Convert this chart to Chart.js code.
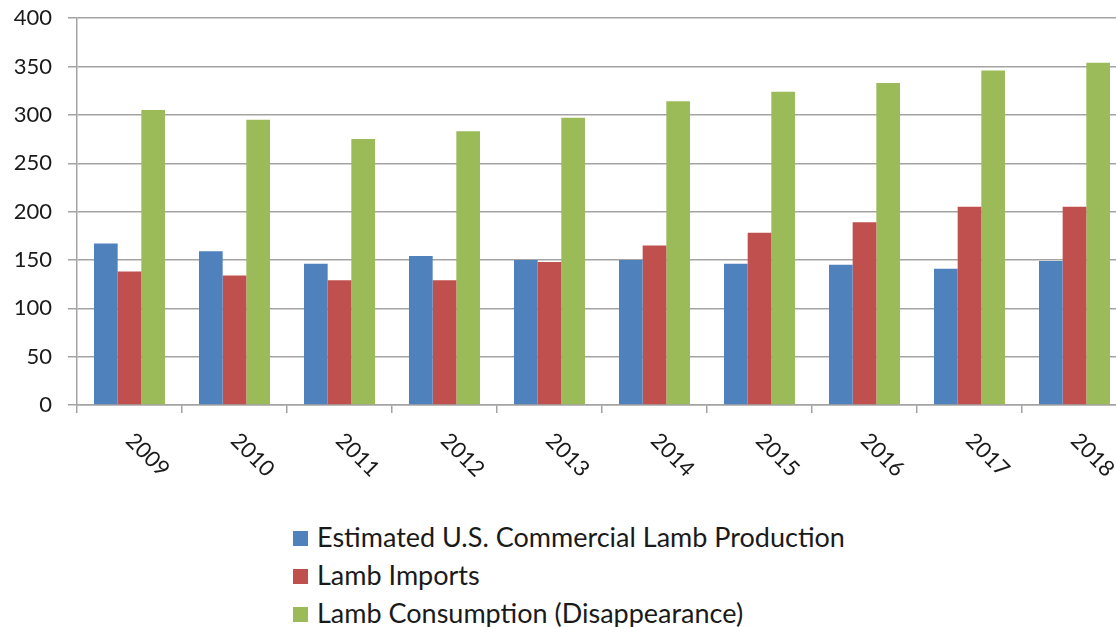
<!DOCTYPE html>
<html>
<head>
<meta charset="utf-8">
<script src="https://cdn.jsdelivr.net/npm/chart.js@4"></script>
<style>
  body { margin: 0; background: #fff; overflow: hidden; }
  #wrap { position: absolute; left: 0; top: -11px; width: 1130px; height: 500px; }
  #legend { position: absolute; left: 293px; top: 526px; font-family: Lato, sans-serif; font-size: 27px; color: #1a1a1a; }
  #legend div { height: 38px; line-height: 22px; display: flex; align-items: flex-start; }
  #legend span.box { display: inline-block; width: 15px; height: 15px; margin: 5px 9px 0 0; }
</style>
</head>
<body>
<div id="wrap"><canvas id="lambChart" width="1130" height="500"></canvas></div>
<div id="legend"></div>
<script>
// values (million lbs)
const years = ["2009", "2010", "2011", "2012", "2013", "2014", "2015", "2016", "2017", "2018"];
const production = [167, 159, 146, 154, 150, 150, 146, 145, 141, 149];
const imports = [138, 134, 129, 129, 148, 165, 178, 189, 205, 205];
const consumption = [305, 295, 275, 283, 297, 314, 324, 333, 346, 354];
const yTicks = [0, 50, 100, 150, 200, 250, 300, 350, 400];

const gridGrey = "#a3a3a3";

// x labels in the reference run downwards (clockwise), so draw them here
const slantedLabels = {
    id: "slantedLabels",
    afterDraw(chart) {
        const ctx = chart.ctx;
        const xs = chart.scales.x;
        ctx.save();
        ctx.font = "22px Lato";
        ctx.fillStyle = "#1a1a1a";
        ctx.textAlign = "left";
        ctx.textBaseline = "middle";
        chart.data.labels.forEach(function(lbl, i) {
            ctx.save();
            ctx.translate(xs.getPixelForTick(i), chart.chartArea.bottom + 32);
            ctx.rotate(Math.PI / 4);
            ctx.fillText(lbl, 0, 0);
            ctx.restore();
        });
        ctx.restore();
    }
};

const chart = new Chart(document.getElementById("lambChart"), {
    type: "bar",
    data: {
        labels: years,
        datasets: [
            { label: "Estimated U.S. Commercial Lamb Production", data: production, backgroundColor: "#4f81bd" },
            { label: "Lamb Imports", data: imports, backgroundColor: "#c0504d" },
            { label: "Lamb Consumption (Disappearance)", data: consumption, backgroundColor: "#9bbb59" }
        ]
    },
    options: {
        responsive: false,
        devicePixelRatio: 1,
        animation: false,
        layout: { padding: { top: 7, right: 3, left: 0, bottom: 0 } },
        datasets: { bar: { categoryPercentage: 0.676, barPercentage: 1 } },
        plugins: { legend: { display: false }, tooltip: { enabled: false } },
        scales: {
            x: {
                grid: { drawOnChartArea: false, drawTicks: true, tickLength: 8, color: gridGrey, lineWidth: 1.5 },
                border: { color: gridGrey, width: 1.5 },
                ticks: { display: false },
                afterFit: function(s) { s.height = 84; }
            },
            y: {
                min: 0,
                max: 400,
                afterBuildTicks: function(s) { s.ticks = yTicks.map(v => ({ value: v })); },
                ticks: { font: { family: "Lato", size: 22 }, color: "#1a1a1a", padding: 16 },
                grid: { color: gridGrey, lineWidth: 1.5, tickLength: 9 },
                border: { color: gridGrey, width: 1.5 },
                afterFit: function(s) { s.width = 77; }
            }
        }
    },
    plugins: [slantedLabels]
});

// legend listed one item per row, like the reference
const legendBox = document.getElementById("legend");
chart.data.datasets.forEach(function(ds) {
    const row = document.createElement("div");
    const box = document.createElement("span");
    box.className = "box";
    box.style.background = ds.backgroundColor;
    row.appendChild(box);
    row.appendChild(document.createTextNode(ds.label));
    legendBox.appendChild(row);
});
</script>
</body>
</html>
